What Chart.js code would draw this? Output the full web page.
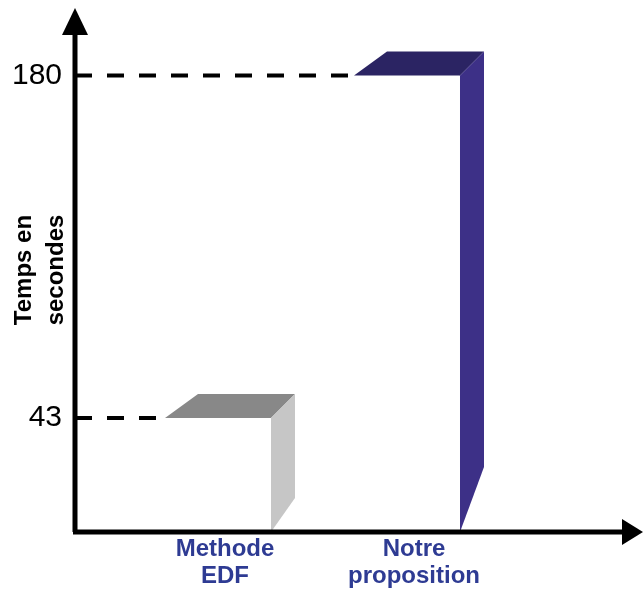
<!DOCTYPE html>
<html>
<head>
<meta charset="utf-8">
<script src="https://cdn.jsdelivr.net/npm/chart.js@4.4.0/dist/chart.umd.min.js"></script>
<style>
  body { margin: 0; background: #fff; }
  #wrap { width: 644px; height: 608px; position: relative; }
</style>
</head>
<body>
<div id="wrap"><canvas id="myChart"></canvas></div>
<script>
// data
var categories = [['Methode', 'EDF'], ['Notre', 'proposition']];
var temps = [43, 180];
var yTicks = [43, 180];

// look of the fake 3d bars
var topColors = ['#888888', '#2b2463'];
var sideColors = ['#c6c6c6', '#3d3087'];
var sideDrop = [34, 65];
var depthX = 24;
var depthY = 24;
var leftSkew = 33;

var yMin = -2.6;
var yMax = 207;

var puntos = [];
for (var i = 0; i < temps.length; i++) {
  puntos.push({ x: i + 1, y: temps[i] });
}

var efecto3d = {
  id: 'efecto3d',
  beforeDatasetsDraw: function (chart) {
    var ctx = chart.ctx;
    var area = chart.chartArea;
    var meta = chart.getDatasetMeta(0);
    ctx.save();
    ctx.strokeStyle = '#000';
    ctx.lineWidth = 4;
    ctx.setLineDash([17, 15]);
    meta.data.forEach(function (bar) {
      var izq = bar.x - bar.width / 2;
      ctx.beginPath();
      ctx.moveTo(area.left, bar.y);
      ctx.lineTo(izq, bar.y);
      ctx.stroke();
    });
    ctx.restore();
  },
  afterDatasetsDraw: function (chart) {
    var ctx = chart.ctx;
    var meta = chart.getDatasetMeta(0);
    ctx.save();
    meta.data.forEach(function (bar, i) {
      var izq = bar.x - bar.width / 2;
      var der = bar.x + bar.width / 2;
      var arriba = bar.y;
      var abajo = bar.base;
      // cara de arriba
      ctx.fillStyle = topColors[i];
      ctx.beginPath();
      ctx.moveTo(izq, arriba);
      ctx.lineTo(izq + leftSkew, arriba - depthY);
      ctx.lineTo(der + depthX, arriba - depthY);
      ctx.lineTo(der, arriba);
      ctx.closePath();
      ctx.fill();
      // cara lateral
      ctx.fillStyle = sideColors[i];
      ctx.beginPath();
      ctx.moveTo(der, arriba);
      ctx.lineTo(der + depthX, arriba - depthY);
      ctx.lineTo(der + depthX, abajo - sideDrop[i]);
      ctx.lineTo(der, abajo);
      ctx.closePath();
      ctx.fill();
    });
    ctx.restore();
  },
  afterDraw: function (chart) {
    var ctx = chart.ctx;
    var a = chart.chartArea;
    ctx.save();
    ctx.strokeStyle = '#000';
    ctx.fillStyle = '#000';
    ctx.lineWidth = 5;
    ctx.beginPath();
    ctx.moveTo(a.left, a.bottom);
    ctx.lineTo(a.left, a.top + 20);
    ctx.moveTo(a.left - 2, a.bottom);
    ctx.lineTo(a.right - 15, a.bottom);
    ctx.stroke();
    // flechas
    ctx.beginPath();
    ctx.moveTo(a.left, a.top);
    ctx.lineTo(a.left - 13, a.top + 27);
    ctx.lineTo(a.left + 13, a.top + 27);
    ctx.closePath();
    ctx.fill();
    ctx.beginPath();
    ctx.moveTo(a.right, a.bottom);
    ctx.lineTo(a.right - 21, a.bottom - 13);
    ctx.lineTo(a.right - 21, a.bottom + 13);
    ctx.closePath();
    ctx.fill();
    ctx.restore();
  }
};

var ctx = document.getElementById('myChart').getContext('2d');
var myChart = new Chart(ctx, {
  type: 'bar',
  data: {
    datasets: [{
      data: puntos,
      base: yMin,
      backgroundColor: 'rgba(255,255,255,0)',
      borderWidth: 0,
      barThickness: 106
    }]
  },
  options: {
    responsive: true,
    maintainAspectRatio: false,
    animation: false,
    layout: { padding: { top: 8, right: 1, left: 0, bottom: 0 } },
    plugins: {
      legend: { display: false },
      tooltip: { enabled: false }
    },
    scales: {
      x: {
        type: 'linear',
        offset: false,
        min: 0.2434,
        max: 3.2487,
        grid: { display: false, drawTicks: false, offset: false },
        border: { display: false },
        afterBuildTicks: function (scale) {
          scale.ticks = categories.map(function (c, i) { return { value: i + 1 }; });
        },
        afterFit: function (scale) {
          scale.height = 76;
          scale.paddingLeft = 0;
          scale.paddingRight = 0;
        },
        ticks: {
          autoSkip: false,
          maxRotation: 0,
          padding: 4,
          labelOffset: 7,
          color: '#2e3b93',
          font: { family: 'Liberation Sans, Arial, sans-serif', size: 24, weight: 'bold', lineHeight: 1.12 },
          callback: function (v) { return categories[v - 1]; }
        }
      },
      y: {
        min: yMin,
        max: yMax,
        grid: { display: false, drawTicks: false },
        border: { display: false },
        afterBuildTicks: function (scale) {
          scale.ticks = yTicks.map(function (v) { return { value: v }; });
        },
        afterFit: function (scale) {
          scale.width = 75;
          scale.paddingTop = 0;
          scale.paddingBottom = 0;
        },
        ticks: {
          padding: 13,
          color: '#000',
          font: { family: 'Liberation Sans, Arial, sans-serif', size: 30 }
        },
        title: {
          display: true,
          text: ['Temps en', 'secondes'],
          color: '#000',
          padding: { top: 8, bottom: 0 },
          font: { family: 'Liberation Sans, Arial, sans-serif', size: 24, weight: 'bold', lineHeight: 1.33 }
        }
      }
    }
  },
  plugins: [efecto3d]
});
</script>
</body>
</html>
